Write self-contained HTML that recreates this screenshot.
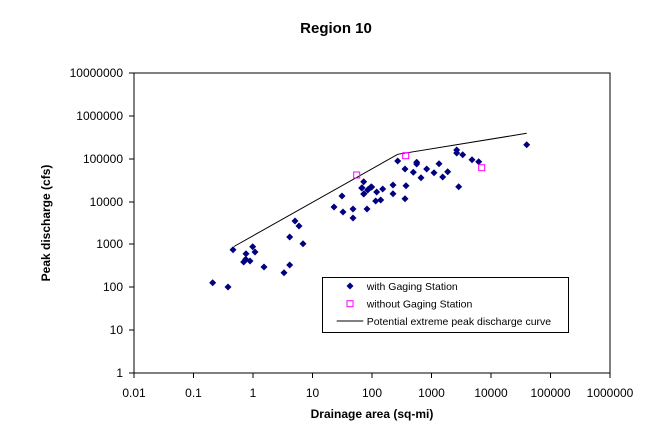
<!DOCTYPE html>
<html><head><meta charset="utf-8"><style>
html,body{margin:0;padding:0;background:#fff;}
svg text{font-family:"Liberation Sans",Arial,sans-serif;fill:#000;}
</style></head><body>
<svg width="671" height="431" viewBox="0 0 671 431" xmlns="http://www.w3.org/2000/svg">
<rect width="671" height="431" fill="#fff"/>
<text x="336" y="33" font-size="15" font-weight="bold" text-anchor="middle">Region 10</text>
<rect x="134" y="73" width="476" height="300" fill="none" stroke="#000" stroke-width="1"/>
<g stroke="#000">
<line x1="129" y1="73" x2="134" y2="73"/><line x1="129" y1="116" x2="134" y2="116"/>
<line x1="129" y1="159" x2="134" y2="159"/><line x1="129" y1="202" x2="134" y2="202"/>
<line x1="129" y1="244" x2="134" y2="244"/><line x1="129" y1="287" x2="134" y2="287"/>
<line x1="129" y1="330" x2="134" y2="330"/><line x1="129" y1="373" x2="134" y2="373"/>
<line x1="134" y1="373" x2="134" y2="378"/><line x1="193.5" y1="373" x2="193.5" y2="378"/>
<line x1="253" y1="373" x2="253" y2="378"/><line x1="312.5" y1="373" x2="312.5" y2="378"/>
<line x1="372" y1="373" x2="372" y2="378"/><line x1="431.5" y1="373" x2="431.5" y2="378"/>
<line x1="491" y1="373" x2="491" y2="378"/><line x1="550.5" y1="373" x2="550.5" y2="378"/>
<line x1="610" y1="373" x2="610" y2="378"/>
</g>
<g font-size="12" text-anchor="end">
<text x="123" y="77">10000000</text><text x="123" y="120">1000000</text>
<text x="123" y="163">100000</text><text x="123" y="206">10000</text>
<text x="123" y="248">1000</text><text x="123" y="291">100</text>
<text x="123" y="334">10</text><text x="123" y="377">1</text>
</g>
<g font-size="12" text-anchor="middle">
<text x="134" y="397">0.01</text><text x="193.5" y="397">0.1</text><text x="253" y="397">1</text>
<text x="312.5" y="397">10</text><text x="372" y="397">100</text><text x="431.5" y="397">1000</text>
<text x="491" y="397">10000</text><text x="550.5" y="397">100000</text><text x="610" y="397">1000000</text>
</g>
<text x="372" y="418" font-size="12" font-weight="bold" text-anchor="middle">Drainage area (sq-mi)</text>
<text transform="translate(50,223) rotate(-90)" font-size="12" font-weight="bold" text-anchor="middle">Peak discharge (cfs)</text>
<polyline points="234,246.5 397.7,154.3 526.7,133.3" fill="none" stroke="#000" stroke-width="1"/>
<defs><path id="d" d="M0,-3.5 L3.5,0 L0,3.5 L-3.5,0Z" fill="#000080"/></defs>
<g>
<use href="#d" x="212.7" y="282.7"/><use href="#d" x="228" y="287"/><use href="#d" x="233" y="249.7"/>
<use href="#d" x="246" y="253.7"/><use href="#d" x="243.7" y="262"/><use href="#d" x="245.7" y="259.3"/>
<use href="#d" x="250" y="261"/><use href="#d" x="252.7" y="246.7"/><use href="#d" x="255" y="252"/>
<use href="#d" x="264" y="267"/><use href="#d" x="284" y="272.7"/><use href="#d" x="289.7" y="265"/>
<use href="#d" x="289.7" y="237"/><use href="#d" x="295" y="221"/><use href="#d" x="299" y="226"/>
<use href="#d" x="303" y="243.7"/><use href="#d" x="334" y="207"/><use href="#d" x="342" y="196"/>
<use href="#d" x="343" y="212"/><use href="#d" x="353" y="209"/><use href="#d" x="353" y="218"/>
<use href="#d" x="361.7" y="188"/><use href="#d" x="363.7" y="181.7"/><use href="#d" x="363.7" y="194"/>
<use href="#d" x="367" y="209"/><use href="#d" x="367.7" y="190"/><use href="#d" x="371.7" y="187"/>
<use href="#d" x="375.7" y="201"/><use href="#d" x="376.7" y="192"/><use href="#d" x="380.7" y="200"/>
<use href="#d" x="382.7" y="189"/><use href="#d" x="362" y="187.7"/><use href="#d" x="364" y="193.7"/>
<use href="#d" x="368.3" y="189.3"/><use href="#d" x="371" y="187"/>
<use href="#d" x="393" y="185"/><use href="#d" x="393" y="193.7"/><use href="#d" x="397.7" y="161"/>
<use href="#d" x="405" y="169"/><use href="#d" x="406" y="185.7"/><use href="#d" x="405" y="198.7"/>
<use href="#d" x="413.3" y="172.3"/><use href="#d" x="416.7" y="162.3"/><use href="#d" x="416.7" y="164"/>
<use href="#d" x="421" y="177.7"/><use href="#d" x="426.7" y="169"/><use href="#d" x="434" y="172.7"/>
<use href="#d" x="439" y="163.7"/><use href="#d" x="442.7" y="177"/><use href="#d" x="447.7" y="171.7"/>
<use href="#d" x="456.7" y="150"/><use href="#d" x="456.7" y="153"/><use href="#d" x="462.7" y="154.7"/>
<use href="#d" x="472" y="159.7"/><use href="#d" x="478.7" y="161.7"/><use href="#d" x="458.7" y="186.7"/>
<use href="#d" x="526.7" y="144.7"/>
</g>
<g fill="none" stroke="#ff00ff" stroke-width="1">
<rect x="353.7" y="172" width="6" height="6"/><rect x="402.7" y="152.7" width="6" height="6"/>
<rect x="478.7" y="164.7" width="6" height="6"/>
</g>
<rect x="322.5" y="277.5" width="246" height="55" fill="#fff" stroke="#000"/>
<use href="#d" x="350" y="286"/>
<rect x="347" y="300.7" width="6" height="6" fill="none" stroke="#ff00ff"/>
<line x1="336.7" y1="321" x2="363.3" y2="321" stroke="#000"/>
<g font-size="10.5">
<text x="366.7" y="290">with Gaging Station</text>
<text x="366.7" y="307.5">without Gaging Station</text>
<text x="366.7" y="325">Potential extreme peak discharge curve</text>
</g>
</svg>
</body></html>
